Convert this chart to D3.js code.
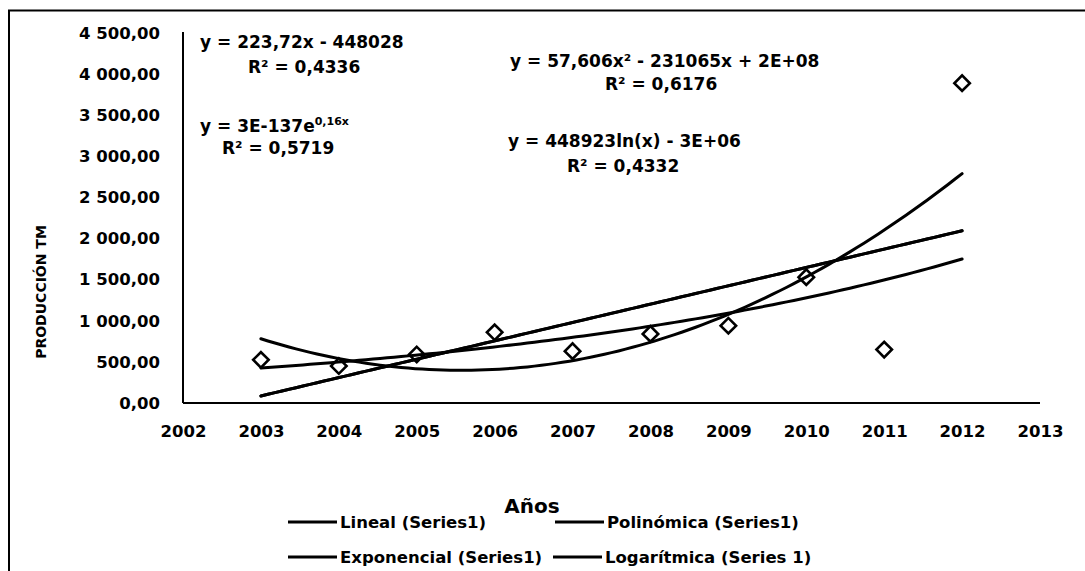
<!DOCTYPE html>
<html>
<head>
<meta charset="utf-8">
<script src="https://cdn.jsdelivr.net/npm/d3@7"></script>
<style>
  html, body { margin: 0; padding: 0; background: #fff; }
  svg text { font-family: "DejaVu Sans", sans-serif; font-weight: bold; fill: #000; }
</style>
</head>
<body>
<svg id="chart" width="1085" height="571"></svg>
<script>
// Producción anual (TM), Series1
const years = [2003, 2004, 2005, 2006, 2007, 2008, 2009, 2010, 2011, 2012];
const produccion = [525, 450, 590, 860, 630, 840, 940, 1530, 650, 3890];

// Axis ticks
const xTicks = [2002, 2003, 2004, 2005, 2006, 2007, 2008, 2009, 2010, 2011, 2012, 2013];
const yTicks = [0, 500, 1000, 1500, 2000, 2500, 3000, 3500, 4000, 4500];

// Trend line names (legend order) and their equation labels
const trendNames = ["Lineal (Series1)", "Polinómica (Series1)", "Exponencial (Series1)", "Logarítmica (Series 1)"];
const eqLineal = ["y = 223,72x - 448028", "R² = 0,4336"];
const eqPolinomica = ["y = 57,606x² - 231065x + 2E+08", "R² = 0,6176"];
const eqExponencial = ["y = 3E-137e", "0,16x", "R² = 0,5719"];
const eqLogaritmica = ["y = 448923ln(x) - 3E+06", "R² = 0,4332"];

const xTitle = "Años";
const yTitle = "PRODUCCIÓN TM";

const svg = d3.select("#chart");
const W = 1085, H = 571;

// outer frame
svg.append("rect")
  .attr("x", 9).attr("y", 10.5)
  .attr("width", W + 20).attr("height", H + 20)
  .attr("fill", "none").attr("stroke", "#000").attr("stroke-width", 2);

const plot = { left: 183, right: 1040, top: 33, bottom: 403 };

const x = d3.scaleLinear().domain([2002, 2013]).range([plot.left, plot.right]);
const y = d3.scaleLinear().domain([0, 4500]).range([plot.bottom, plot.top]);

const fmt = d3.formatLocale({ decimal: ",", thousands: " ", grouping: [3], currency: ["", ""] }).format(",.2f");

// ---- least squares trend fits ----
function linFit(xs, ys) {
  const n = xs.length;
  const mx = d3.mean(xs), my = d3.mean(ys);
  let sxy = 0, sxx = 0;
  for (let i = 0; i < n; i++) { sxy += (xs[i] - mx) * (ys[i] - my); sxx += (xs[i] - mx) ** 2; }
  const b = sxy / sxx;
  return { a: my - b * mx, b };
}
function quadFit(xs, ys) {
  const c = d3.mean(xs);
  const t = xs.map(v => v - c);
  const S = k => d3.sum(t, v => v ** k);
  const T = k => d3.sum(t, (v, i) => v ** k * ys[i]);
  const M = [[S(0), S(1), S(2), T(0)], [S(1), S(2), S(3), T(1)], [S(2), S(3), S(4), T(2)]];
  for (let i = 0; i < 3; i++) {
    for (let j = i + 1; j < 3; j++) {
      const f = M[j][i] / M[i][i];
      for (let k = i; k < 4; k++) M[j][k] -= f * M[i][k];
    }
  }
  const r = [0, 0, 0];
  for (let i = 2; i >= 0; i--) {
    let s = M[i][3];
    for (let k = i + 1; k < 3; k++) s -= M[i][k] * r[k];
    r[i] = s / M[i][i];
  }
  return v => r[0] + r[1] * (v - c) + r[2] * (v - c) ** 2;
}

const lf = linFit(years, produccion);
const fLineal = v => lf.a + lf.b * v;
const fPolinomica = quadFit(years, produccion);
const ef = linFit(years, produccion.map(Math.log));
const fExponencial = v => Math.exp(ef.a + ef.b * v);
const gf = linFit(years.map(Math.log), produccion);
const fLogaritmica = v => gf.a + gf.b * Math.log(v);

// ---- axes ----
const yAxis = svg.append("g").attr("transform", `translate(${plot.left},0)`)
  .call(d3.axisLeft(y).tickValues(yTicks).tickSize(0).tickPadding(23).tickFormat(fmt));
const xAxis = svg.append("g").attr("transform", `translate(0,${plot.bottom})`)
  .call(d3.axisBottom(x).tickValues(xTicks).tickSize(0).tickPadding(22).tickFormat(d3.format("d")));
[yAxis, xAxis].forEach(g => {
  g.select(".domain").attr("stroke", "#000").attr("stroke-width", 2);
  g.selectAll("text").style("font-size", "16.5px").attr("fill", "#000")
    .style("font-family", "'DejaVu Sans', sans-serif").style("font-weight", "bold");
});
yAxis.select(".domain").attr("d", `M0,${plot.top - 1}V${plot.bottom}`);
xAxis.select(".domain").attr("d", `M${plot.left},0H${plot.right}`);

// axis titles
svg.append("text")
  .attr("transform", `translate(41,${(plot.top + plot.bottom) / 2 + 74}) rotate(-90)`)
  .attr("text-anchor", "middle").attr("dy", "0.35em")
  .style("font-size", "14px").text(yTitle);

svg.append("text")
  .attr("x", 532).attr("y", 513).attr("text-anchor", "middle")
  .style("font-size", "20px").text(xTitle);

// ---- data markers ----
const diamond = d3.symbol().type(d3.symbolSquare).size(120);
svg.append("g").selectAll("path").data(years).join("path")
  .attr("d", diamond)
  .attr("transform", (d, i) => `translate(${x(d)},${y(produccion[i])}) rotate(45)`)
  .attr("fill", "#fff").attr("stroke", "#000").attr("stroke-width", 2.6);

// ---- trend lines ----
const span = d3.range(0, 101).map(i => 2003 + i * 9 / 100);
const line = f => d3.line().x(v => x(v)).y(v => y(f(v)))(span);
[fLineal, fPolinomica, fExponencial, fLogaritmica].forEach(f => {
  svg.append("path").attr("d", line(f))
    .attr("fill", "none").attr("stroke", "#000").attr("stroke-width", 3)
    .attr("stroke-linecap", "round");
});

// ---- equation labels ----
const eq = (txt, px, py) => svg.append("text").attr("x", px).attr("y", py)
  .style("font-size", "17px").text(txt);
eq(eqLineal[0], 200, 48);
eq(eqLineal[1], 248, 73);
eq(eqPolinomica[0], 510, 67);
eq(eqPolinomica[1], 605, 90);
eq(eqLogaritmica[0], 508, 147);
eq(eqLogaritmica[1], 567, 172);
const ex = eq(eqExponencial[0], 200, 132);
ex.append("tspan").attr("dy", -7).style("font-size", "11px").text(eqExponencial[1]);
eq(eqExponencial[2], 222, 154);

// ---- legend ----
const legendPos = [[288, 522], [555, 522], [288, 557], [553, 557]];
trendNames.forEach((name, i) => {
  const [lx, ly] = legendPos[i];
  svg.append("line").attr("x1", lx).attr("x2", lx + 49).attr("y1", ly).attr("y2", ly)
    .attr("stroke", "#000").attr("stroke-width", 3);
  svg.append("text").attr("x", lx + 52).attr("y", ly).attr("dy", "0.36em")
    .style("font-size", "16.5px").text(name);
});
</script>
</body>
</html>
